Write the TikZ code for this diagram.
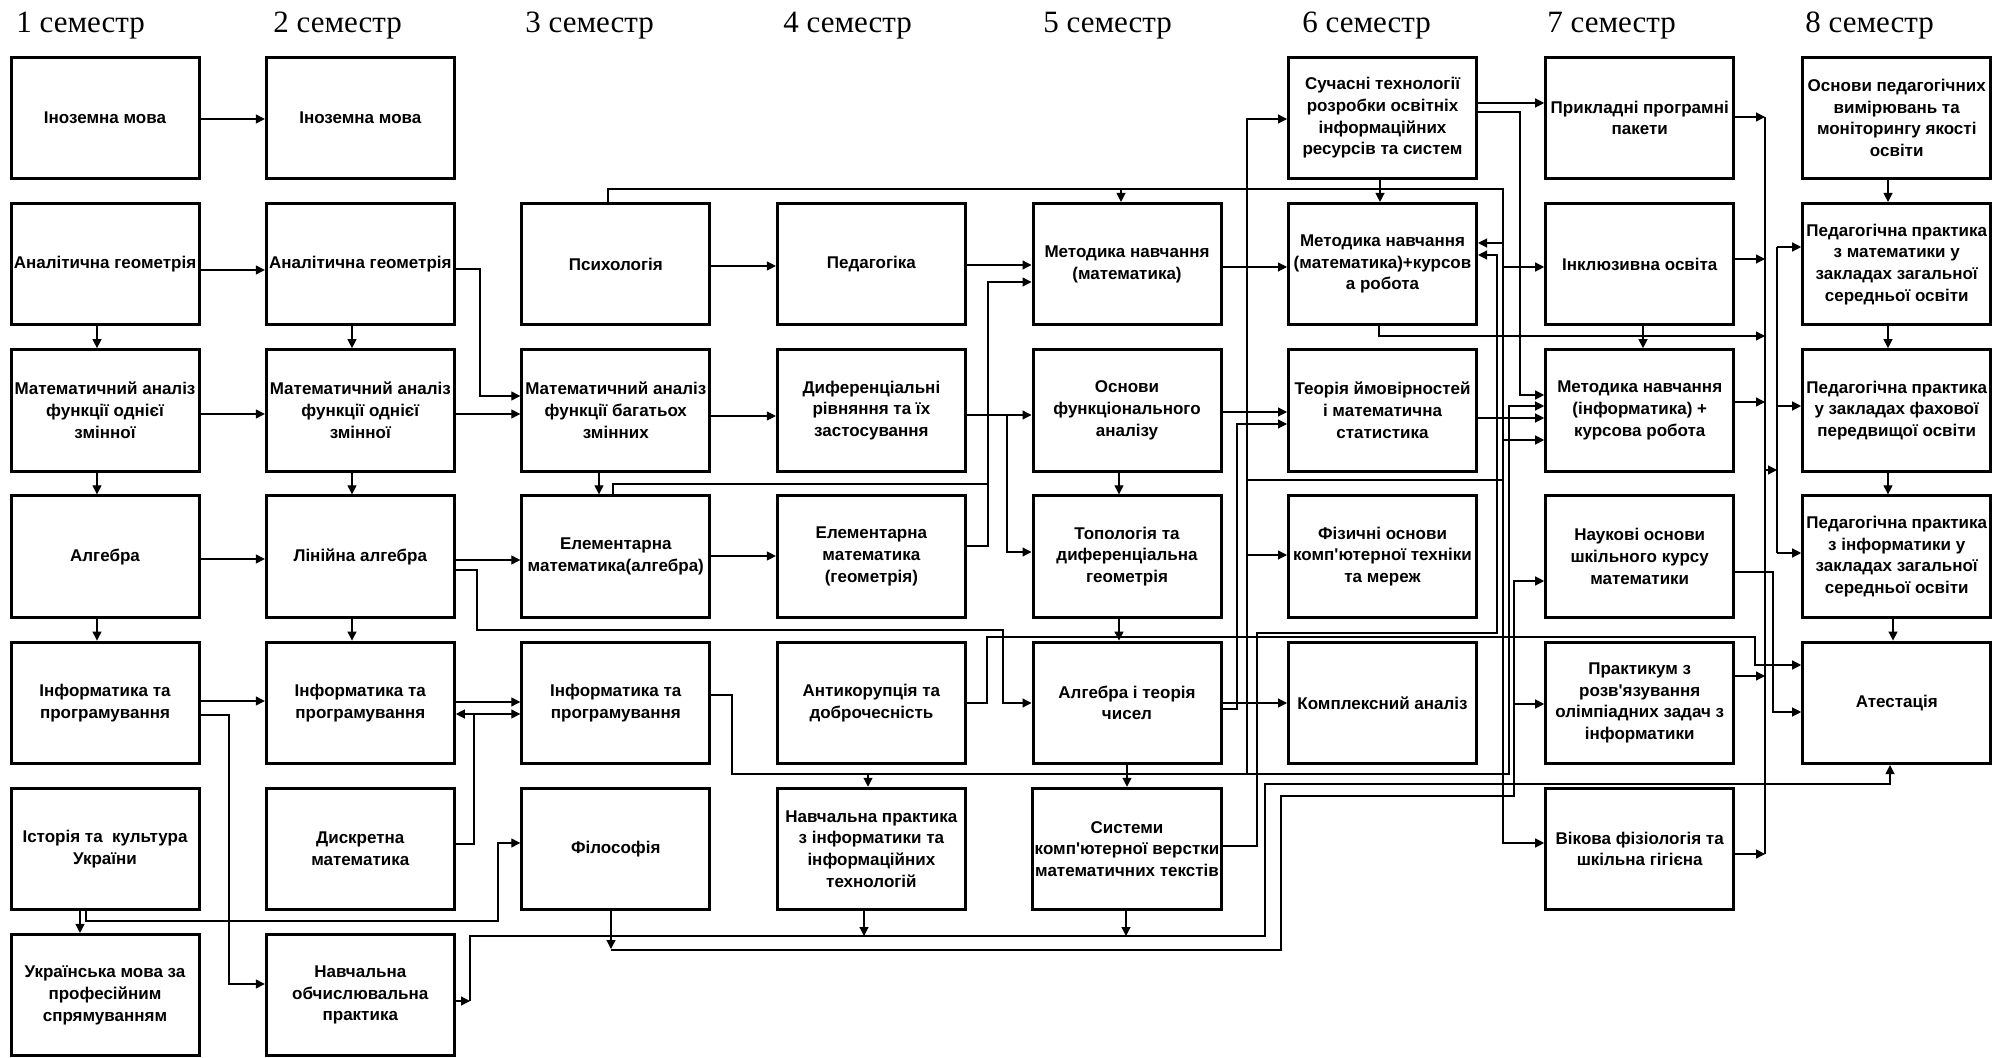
\documentclass[tikz,border=0pt]{standalone}
\usepackage{fontspec}
\setmainfont{Liberation Serif}
\newfontfamily\boxfont{Liberation Sans}
\usetikzlibrary{arrows.meta}
\begin{document}
\begin{tikzpicture}[x=0.5pt,y=-0.5pt,
  box/.style={draw, line width=1.5pt, minimum width=94pt, minimum height=60.75pt, inner sep=1pt, align=center, font=\boxfont\bfseries\fontsize{8.5}{10.85}\selectfont},
  hdr/.style={anchor=base west, inner sep=0pt, font=\fontsize{15.5}{18}\selectfont},
  ln/.style={line width=0.6pt},
  arr/.style={line width=0.6pt, -{Triangle[length=4.5pt,width=4.5pt]}}]
\useasboundingbox[fill=white] (0,0) rectangle (2002,1058);
% headers
\node[hdr] (h1) at (16,33) {1 семестр};
\node[hdr] (h2) at (273,33) {2 семестр};
\node[hdr] (h3) at (525,33) {3 семестр};
\node[hdr] (h4) at (783,33) {4 семестр};
\node[hdr] (h5) at (1043,33) {5 семестр};
\node[hdr] (h6) at (1302,33) {6 семестр};
\node[hdr] (h7) at (1547,33) {7 семестр};
\node[hdr] (h8) at (1805,33) {8 семестр};
% column 1
\node[box] (c11) at (105,118) {Іноземна мова};
\node[box] (c12) at (105,264.2) {Аналітична геометрія};
\node[box] (c13) at (105,410.4) {Математичний аналіз\\функції однієї\\змінної};
\node[box] (c14) at (105,556.6) {Алгебра};
\node[box] (c15) at (105,702.8) {Інформатика та\\програмування};
\node[box] (c16) at (105,849) {Історія та\ \ культура\\України};
\node[box] (c17) at (105,995.2) {Українська мова за\\професійним\\спрямуванням};
% column 2
\node[box] (c21) at (360.3,118) {Іноземна мова};
\node[box] (c22) at (360.3,264.2) {Аналітична геометрія};
\node[box] (c23) at (360.3,410.4) {Математичний аналіз\\функції однієї\\змінної};
\node[box] (c24) at (360.3,556.6) {Лінійна алгебра};
\node[box] (c25) at (360.3,702.8) {Інформатика та\\програмування};
\node[box] (c26) at (360.3,849) {Дискретна\\математика};
\node[box] (c27) at (360.3,995.2) {Навчальна\\обчислювальна\\практика};
% column 3
\node[box] (c32) at (615.8,264.2) {Психологія};
\node[box] (c33) at (615.8,410.4) {Математичний аналіз\\функції багатьох\\змінних};
\node[box] (c34) at (615.8,556.6) {Елементарна\\математика(алгебра)};
\node[box] (c35) at (615.8,702.8) {Інформатика та\\програмування};
\node[box] (c36) at (615.8,849) {Філософія};
% column 4
\node[box] (c42) at (871.4,264.2) {Педагогіка};
\node[box] (c43) at (871.4,410.4) {Диференціальні\\рівняння та їх\\застосування};
\node[box] (c44) at (871.4,556.6) {Елементарна\\математика\\(геометрія)};
\node[box] (c45) at (871.4,702.8) {Антикорупція та\\доброчесність};
\node[box] (c46) at (871.4,849) {Навчальна практика\\з інформатики та\\інформаційних\\технологій};
% column 5
\node[box] (c52) at (1127,264.2) {Методика навчання\\(математика)};
\node[box] (c53) at (1127,410.4) {Основи\\функціонального\\аналізу};
\node[box] (c54) at (1127,556.6) {Топологія та\\диференціальна\\геометрія};
\node[box] (c55) at (1127,702.8) {Алгебра і теорія\\чисел};
\node[box] (c56) at (1127,849) {Системи\\комп'ютерної верстки\\математичних текстів};
% column 6
\node[box] (c61) at (1382.5,118) {Сучасні технології\\розробки освітніх\\інформаційних\\ресурсів та систем};
\node[box] (c62) at (1382.5,264.2) {Методика навчання\\(математика)+курсов\\а робота};
\node[box] (c63) at (1382.5,410.4) {Теорія ймовірностей\\і математична\\статистика};
\node[box] (c64) at (1382.5,556.6) {Фізичні основи\\комп'ютерної техніки\\та мереж};
\node[box] (c65) at (1382.5,702.8) {Комплексний аналіз};
% column 7
\node[box] (c71) at (1639.7,118) {Прикладні програмні\\пакети};
\node[box] (c72) at (1639.7,264.2) {Інклюзивна освіта};
\node[box] (c73) at (1639.7,410.4) {Методика навчання\\(інформатика) +\\курсова робота};
\node[box] (c74) at (1639.7,556.6) {Наукові основи\\шкільного курсу\\математики};
\node[box] (c75) at (1639.7,702.8) {Практикум з\\розв'язування\\олімпіадних задач з\\інформатики};
\node[box] (c76) at (1639.7,849) {Вікова фізіологія та\\шкільна гігієна};
% column 8
\node[box] (c81) at (1896.7,118) {Основи педагогічних\\вимірювань та\\моніторингу якості\\освіти};
\node[box] (c82) at (1896.7,264.2) {Педагогічна практика\\з математики у\\закладах загальної\\середньої освіти};
\node[box] (c83) at (1896.7,410.4) {Педагогічна практика\\у закладах фахової\\передвищої освіти};
\node[box] (c84) at (1896.7,556.6) {Педагогічна практика\\з інформатики у\\закладах загальної\\середньої освіти};
\node[box] (c85) at (1896.7,702.8) {Атестація};
% straight horizontal arrows
\draw[arr] (c11.east |- 0,119) -- (c21.west |- 0,119);
\draw[arr] (c12.east |- 0,270) -- (c22.west |- 0,270);
\draw[arr] (c13.east |- 0,414) -- (c23.west |- 0,414);
\draw[arr] (c14.east |- 0,559) -- (c24.west |- 0,559);
\draw[arr] (c15.east |- 0,701) -- (c25.west |- 0,701);
\draw[arr] (c23.east |- 0,414) -- (c33.west |- 0,414);
\draw[arr] (c24.east |- 0,560) -- (c34.west |- 0,560);
\draw[arr] (c25.east |- 0,702) -- (c35.west |- 0,702);
\draw[arr] (c32.east |- 0,266) -- (c42.west |- 0,266);
\draw[arr] (c33.east |- 0,416) -- (c43.west |- 0,416);
\draw[arr] (c34.east |- 0,556) -- (c44.west |- 0,556);
\draw[arr] (c42.east |- 0,265) -- (c52.west |- 0,265);
\draw[arr] (c43.east |- 0,415) -- (c53.west |- 0,415);
\draw[arr] (c52.east |- 0,267) -- (c62.west |- 0,267);
\draw[arr] (c53.east |- 0,412) -- (c63.west |- 0,412);
\draw[arr] (c55.east |- 0,703) -- (c65.west |- 0,703);
\draw[arr] (c61.east |- 0,103) -- (c71.west |- 0,103);
\draw[arr] (c63.east |- 0,418) -- (c73.west |- 0,418);
% vertical arrows
\draw[arr] (c12.south -| 97,0) -- (c13.north -| 97,0);
\draw[arr] (c13.south -| 97,0) -- (c14.north -| 97,0);
\draw[arr] (c14.south -| 97,0) -- (c15.north -| 97,0);
\draw[arr] (c22.south -| 352,0) -- (c23.north -| 352,0);
\draw[arr] (c23.south -| 352,0) -- (c24.north -| 352,0);
\draw[arr] (c24.south -| 352,0) -- (c25.north -| 352,0);
\draw[arr] (c16.south -| 80,0) -- (c17.north -| 80,0);
\draw[arr] (c33.south -| 599,0) -- (c34.north -| 599,0);
\draw[arr] (c53.south -| 1119,0) -- (c54.north -| 1119,0);
\draw[arr] (c54.south -| 1119,0) -- (c55.north -| 1119,0);
\draw[arr] (c55.south -| 1127,0) -- (c56.north -| 1127,0);
\draw[arr] (c61.south -| 1380,0) -- (c62.north -| 1380,0);
\draw[arr] (c72.south -| 1643,0) -- (c73.north -| 1643,0);
\draw[arr] (c81.south -| 1888,0) -- (c82.north -| 1888,0);
\draw[arr] (c82.south -| 1888,0) -- (c83.north -| 1888,0);
\draw[arr] (c83.south -| 1888,0) -- (c84.north -| 1888,0);
\draw[arr] (c84.south -| 1893,0) -- (c85.north -| 1893,0);
% elbow connectors
\draw[arr] (c15.east |- 0,715) -- (229,715) -- (229,984) -- (c27.west |- 0,984);
\draw[arr] (c22.east |- 0,269) -- (480,269) -- (480,396) -- (c33.west |- 0,396);
\draw[arr] (c24.east |- 0,570) -- (477,570) -- (477,630) -- (1003,630) -- (1003,703) -- (c55.west |- 0,703);
\draw[arr] (c16.south -| 86,0) -- (86,921) -- (498,921) -- (498,843) -- (c36.west |- 0,843);
\draw[ln] (c26.east |- 0,844) -- (474,844) -- (474,714);
\draw[arr] (474,714) -- (c25.east |- 0,714);
\draw[arr] (474,714) -- (c35.west |- 0,714);
% bus to Атестація (y 936)
\draw[arr] (c27.east |- 0,1001) -- (470,1001);
\draw[arr] (470,1001) -- (470,936) -- (1265,936) -- (1265,784) -- (1890,784) -- (c85.south -| 1890,0);
\draw[arr] (c46.south -| 864,0) -- (864,936);
\draw[arr] (c56.south -| 1126,0) -- (1126,936);
% bus from Філософія (y 950)
\draw[arr] (c36.south -| 611,0) -- (611,949);
\draw[arr] (611,950) -- (1281,950) -- (1281,796) -- (1514,796) -- (1514,581) -- (c74.west |- 0,581);
\draw[arr] (1514,704) -- (c75.west |- 0,704);
% Психологія
\draw[arr] (c32.north -| 608,0) -- (608,189) -- (1503,189) -- (1503,843) -- (c76.west |- 0,843);
\draw[arr] (1121,189) -- (c52.north -| 1121,0);
\draw[arr] (1503,243) -- (c62.east |- 0,243);
\draw[arr] (1503,267) -- (c72.west |- 0,267);
\draw[arr] (1503,440) -- (c73.west |- 0,440);
\draw[ln] (1503,480) -- (1247,480);
% to Методика навчання (математика)
\draw[ln] (c34.north -| 613,0) -- (613,484) -- (988,484);
\draw[arr] (c44.east |- 0,546) -- (988,546) -- (988,282) -- (c52.west |- 0,282);
\draw[arr] (1007,415) -- (1007,552) -- (c54.west |- 0,552);
% Інформатика (3) bus y 774
\draw[arr] (c35.east |- 0,695) -- (732,695) -- (732,774) -- (1509,774) -- (1509,406) -- (c73.west |- 0,406);
\draw[arr] (868,774) -- (c46.north -| 868,0);
\draw[arr] (1247,774) -- (1247,119) -- (c61.west |- 0,119);
\draw[arr] (1247,555) -- (c64.west |- 0,555);
% others
\draw[arr] (c55.east |- 0,709) -- (1237,709) -- (1237,424) -- (c63.west |- 0,424);
\draw[arr] (c56.east |- 0,846) -- (1257,846) -- (1257,633) -- (1497,633) -- (1497,255) -- (c62.east |- 0,255);
\draw[arr] (c61.east |- 0,112) -- (1520,112) -- (1520,395) -- (c73.west |- 0,395);
\draw[arr] (c45.east |- 0,703) -- (987,703) -- (987,637) -- (1755,637) -- (1755,665) -- (c85.west |- 0,665);
\draw[arr] (c74.east |- 0,572) -- (1773,572) -- (1773,712) -- (c85.west |- 0,712);
% practice buses
\draw[ln] (1765,117) -- (1765,854);
\draw[arr] (c71.east |- 0,117) -- (1765,117);
\draw[arr] (c72.east |- 0,259) -- (1765,259);
\draw[arr] (c73.east |- 0,402) -- (1765,402);
\draw[arr] (c75.east |- 0,676) -- (1765,676);
\draw[arr] (c76.east |- 0,854) -- (1765,854);
\draw[arr] (c62.south -| 1379,0) -- (1379,336) -- (1765,336);
\draw[arr] (1765,470) -- (1777,470);
\draw[ln] (1777,247) -- (1777,553);
\draw[arr] (1777,247) -- (c82.west |- 0,247);
\draw[arr] (1777,406) -- (c83.west |- 0,406);
\draw[arr] (1777,553) -- (c84.west |- 0,553);
\end{tikzpicture}
\end{document}
